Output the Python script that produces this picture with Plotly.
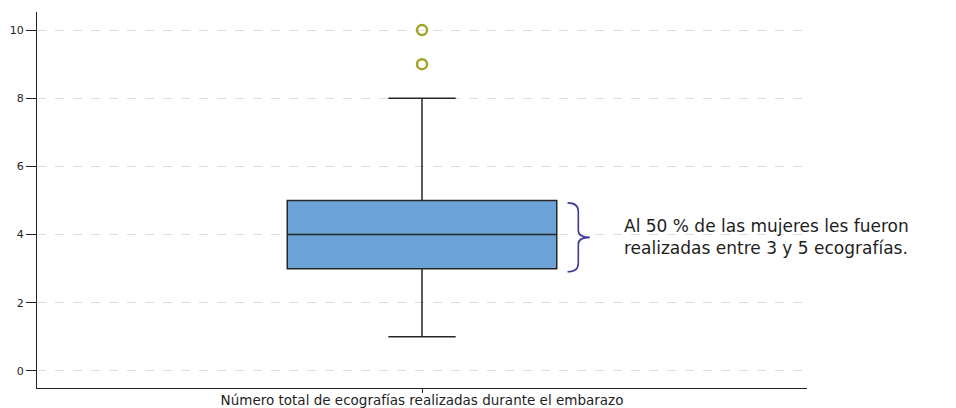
import plotly.graph_objects as go

category = ["Número total de ecografías realizadas durante el embarazo"]
q1 = [3]
median = [4]
q3 = [5]
lower_whisker = [1]
upper_whisker = [8]
outlier_values = [9, 10]
y_ticks = [0, 2, 4, 6, 8, 10]
note_lines = ["Al 50 % de las mujeres les fueron", "realizadas entre 3 y 5 ecografías."]

FONT = "DejaVu Sans, Verdana, sans-serif"

fig = go.Figure()
fig.add_trace(go.Box(
    x=category, q1=q1, median=median, q3=q3,
    lowerfence=lower_whisker, upperfence=upper_whisker,
    width=0.35, whiskerwidth=0.25,
    fillcolor="#6ba3d6", line=dict(color="#262626", width=1.5),
    boxpoints=False, showlegend=False, hoverinfo="skip",
))
fig.add_trace(go.Scatter(
    x=category * len(outlier_values), y=outlier_values, mode="markers",
    marker=dict(symbol="circle-open", size=10, color="#a3a32a", line=dict(width=2.5)),
    showlegend=False, hoverinfo="skip",
))

# brace next to the box (paper x, data y)
x0, x1, xt = 0.689, 0.703, 0.718
yt, yb = q3[0] - 0.07, q1[0] - 0.09
ym = (yt + yb) / 2
path = (f"M {x0},{yt} Q {x1},{yt} {x1},{yt-0.25} L {x1},{ym+0.2} "
        f"Q {x1},{ym} {xt},{ym} Q {x1},{ym} {x1},{ym-0.2} "
        f"L {x1},{yb+0.25} Q {x1},{yb} {x0},{yb}")
fig.add_shape(type="path", path=path, xref="paper", yref="y",
              line=dict(color="#3b3b9a", width=1.6))

fig.add_annotation(x=0.76, xref="paper", y=ym, yref="y",
                   text="<br>".join(note_lines), showarrow=False,
                   xanchor="left", yanchor="middle", align="left",
                   font=dict(family=FONT, size=17, color="#1e1e1e"))

fig.update_layout(
    width=956, height=408,
    margin=dict(l=29, r=157, t=4, b=28, autoexpand=False),
    paper_bgcolor="white", plot_bgcolor="white",
    font=dict(family=FONT, size=11, color="#222222"),
)
fig.update_xaxes(
    type="category", range=[-0.5, 0.5], automargin=False,
    showline=True, linecolor="#222222", linewidth=1,
    ticks="outside", ticklen=4, tickcolor="#222222",
    ticklabelstandoff=-4,
    tickfont=dict(size=13.5, color="#1e1e1e"),
    showgrid=False, zeroline=False,
)
fig.update_yaxes(
    range=[-0.5, 10.53], tickvals=y_ticks, automargin=False,
    showline=True, linecolor="#222222", linewidth=1,
    ticks="outside", ticklen=10, tickcolor="#222222",
    tickfont=dict(size=11, color="#1e1e1e"),
    showgrid=True, gridcolor="#dddddd", griddash="dash", gridwidth=1,
    zeroline=False,
)

fig.write_html("out.html")
